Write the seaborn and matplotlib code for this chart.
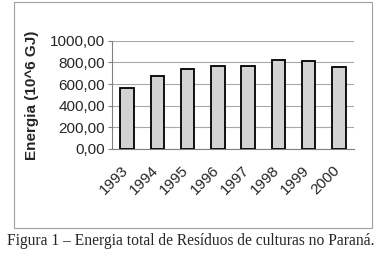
import matplotlib
matplotlib.use("Agg")
import matplotlib.pyplot as plt
import matplotlib.transforms as mtransforms
import seaborn as sns
import pandas as pd
from matplotlib.patches import Rectangle
from matplotlib.ticker import FuncFormatter, MultipleLocator

# data
anos = ["1993", "1994", "1995", "1996", "1997", "1998", "1999", "2000"]
energia = [563, 678, 742, 768, 766, 818, 816, 757]

df = pd.DataFrame({"ano": anos, "energia": energia})

sns.set_style("white")
plt.rcParams["font.family"] = ["Liberation Sans", "DejaVu Sans"]

fig = plt.figure(figsize=(3.81, 2.56), dpi=100)
ax = fig.add_axes([0.294, 0.418, 0.635, 0.423])

sns.barplot(data=df, x="ano", y="energia", color="#d3d3d3", edgecolor="black",
            linewidth=1.3, width=0.45, saturation=1, ax=ax, zorder=3)

ax.set_ylim(0, 1000)
ax.set_xlim(-0.5, len(anos) - 0.5)
ax.yaxis.set_major_locator(MultipleLocator(200))
ax.yaxis.set_major_formatter(FuncFormatter(lambda v, p: f"{v:.2f}".replace(".", ",")))
ax.grid(axis="y", color="#a8a8a8", linewidth=0.8, zorder=0)
ax.set_axisbelow(True)

for s in ["top", "right"]:
    ax.spines[s].set_visible(False)
for s in ["left", "bottom"]:
    ax.spines[s].set_color("#808080")
    ax.spines[s].set_linewidth(0.8)

# excel style ticks between categories
ax.set_xticks([i - 0.5 for i in range(len(anos) + 1)], minor=True)
ax.tick_params(axis="x", which="minor", length=3, color="#808080", width=0.8)
ax.tick_params(axis="x", which="major", length=0, labelsize=11, pad=10)
ax.tick_params(axis="y", length=3, color="#808080", width=0.8, labelsize=11, pad=2, left=True)
shift = mtransforms.ScaledTranslation(-6 / 100, 0, fig.dpi_scale_trans)
for lbl in ax.get_xticklabels():
    lbl.set_rotation(45)
    lbl.set_ha("right")
    lbl.set_rotation_mode("anchor")
    lbl.set_transform(lbl.get_transform() + shift)

ax.set_xlabel("")
ax.set_ylabel("Energia (10^6 GJ)", fontsize=11, fontweight="bold", labelpad=8)

fig.patches.append(Rectangle((0.037, 0.11), 0.94, 0.882, transform=fig.transFigure,
                             fill=False, edgecolor="#a0a0a0", linewidth=0.8))
fig.text(0.5, 0.058, "Figura 1 – Energia total de Resíduos de culturas no Paraná.",
         ha="center", va="center", fontsize=11.2, family=["Liberation Serif", "DejaVu Serif"])

fig.savefig("out.png", dpi=100)
